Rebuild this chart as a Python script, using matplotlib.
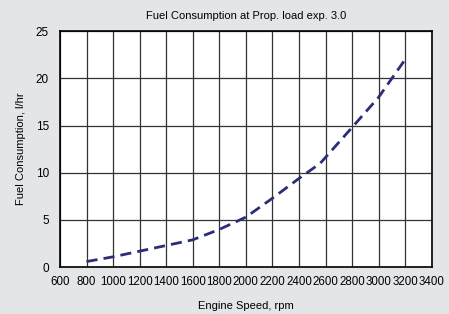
import matplotlib
matplotlib.use("Agg")
import matplotlib.pyplot as plt

# Fuel consumption curve
rpm = [800, 1000, 1200, 1400, 1600, 1800, 2000, 2200, 2400, 2560, 2800, 3000, 3200]
fuel = [0.6, 1.1, 1.7, 2.3, 2.9, 4.0, 5.3, 7.3, 9.4, 11.0, 14.8, 18.0, 22.0]

x_ticks = list(range(600, 3401, 200))
y_ticks = [0, 5, 10, 15, 20, 25]

plt.rcParams["font.family"] = ["Liberation Sans Narrow", "Liberation Sans", "DejaVu Sans"]

fig = plt.figure(figsize=(4.49, 3.14), dpi=100, facecolor="#e4e5e7")
ax = fig.add_axes([0.1336, 0.149, 0.828, 0.752])
ax.set_facecolor("white")

ax.plot(rpm, fuel, color="#2b2d78", linewidth=2, linestyle=(0, (4, 2.2)))

ax.set_xlim(600, 3400)
ax.set_ylim(0, 25)
ax.set_xticks(x_ticks)
ax.set_yticks(y_ticks)
ax.grid(True, color="#333333", linewidth=0.9)
ax.set_axisbelow(True)
ax.tick_params(axis="x", labelsize=8.3, length=0, pad=6)
ax.tick_params(axis="y", labelsize=8.5, length=0, pad=8)
for s in ax.spines.values():
    s.set_color("black")
    s.set_linewidth(1.2)

ax.set_title("Fuel Consumption at Prop. load exp. 3.0", fontsize=8, pad=9)
ax.set_xlabel("Engine Speed, rpm", fontsize=8, labelpad=10)
ax.set_ylabel("Fuel Consumption, l/hr", fontsize=8, labelpad=7)

plt.savefig("out.png", dpi=100, facecolor=fig.get_facecolor())
